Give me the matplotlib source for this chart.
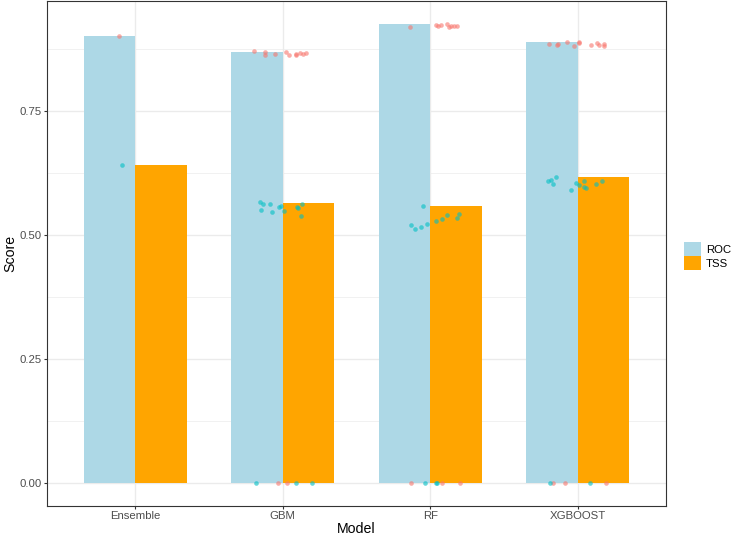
import matplotlib
matplotlib.use("Agg")
import matplotlib.pyplot as plt
from matplotlib.patches import Patch
from matplotlib.ticker import FixedLocator
import numpy as np

plt.rcParams['font.family'] = ['Liberation Sans', 'DejaVu Sans']

# ---- data ----
models = ["Ensemble", "GBM", "RF", "XGBOOST"]
metrics = ["ROC", "TSS"]
roc_bar = [0.900, 0.869, 0.925, 0.889]
tss_bar = [0.640, 0.565, 0.558, 0.616]

# individual run scores and their horizontal jitter (category units)
ens_roc = [0.900]
ens_roc_jit = [-0.11]
ens_tss = [0.640]
ens_tss_jit = [-0.09]

gbm_roc = [0.870, 0.868, 0.862, 0.864, 0.869, 0.862, 0.862, 0.864, 0.867, 0.864, 0.866, 0.0, 0.0]
gbm_roc_jit = [-0.196, -0.12, -0.12, -0.054, 0.02, 0.043, 0.088, 0.09, 0.115, 0.138, 0.158, -0.03, 0.03]
gbm_tss = [0.566, 0.562, 0.562, 0.550, 0.546, 0.557, 0.558, 0.548, 0.556, 0.555, 0.562, 0.538, 0.0, 0.0, 0.0]
gbm_tss_jit = [-0.154, -0.133, -0.088, -0.147, -0.072, -0.027, -0.014, 0.009, 0.097, 0.106, 0.133, 0.126, -0.18, 0.088, 0.196]

rf_roc = [0.919, 0.922, 0.920, 0.923, 0.924, 0.919, 0.921, 0.921, 0.920, 0.0, 0.0, 0.0]
rf_roc_jit = [-0.135, 0.038, 0.056, 0.074, 0.113, 0.126, 0.14, 0.162, 0.18, -0.129, 0.081, 0.203]
rf_tss = [0.558, 0.520, 0.512, 0.515, 0.522, 0.528, 0.532, 0.540, 0.542, 0.534, 0.0, 0.0, 0.0]
rf_tss_jit = [-0.05, -0.13, -0.10, -0.06, -0.02, 0.04, 0.08, 0.115, 0.196, 0.183, -0.034, 0.04, 0.045]

xgb_roc = [0.885, 0.883, 0.884, 0.888, 0.880, 0.8885, 0.887, 0.883, 0.887, 0.883, 0.884, 0.881, 0.0, 0.0, 0.0]
xgb_roc_jit = [-0.196, -0.138, -0.131, -0.07, -0.025, 0.009, 0.007, 0.088, 0.13, 0.144, 0.178, 0.176, -0.17, -0.088, 0.196]
xgb_tss = [0.608, 0.610, 0.603, 0.616, 0.605, 0.591, 0.600, 0.608, 0.597, 0.595, 0.603, 0.609, 0.0, 0.0]
xgb_tss_jit = [-0.203, -0.183, -0.167, -0.149, -0.009, -0.043, 0.009, 0.041, 0.047, 0.059, 0.122, 0.165, -0.19, 0.081]

runs = {
    "Ensemble": (ens_roc, ens_roc_jit, ens_tss, ens_tss_jit),
    "GBM": (gbm_roc, gbm_roc_jit, gbm_tss, gbm_tss_jit),
    "RF": (rf_roc, rf_roc_jit, rf_tss, rf_tss_jit),
    "XGBOOST": (xgb_roc, xgb_roc_jit, xgb_tss, xgb_tss_jit),
}

# ---- style ----
bar_colors = {"ROC": "#ADD8E6", "TSS": "#FFA500"}
pt_colors = {"ROC": "#F8766D", "TSS": "#00BFC4"}
grid_c = "#EBEBEB"

fig = plt.figure(figsize=(7.35, 5.39), dpi=100)
ax = fig.add_axes([47/735, 1 - 506/539, (666 - 47)/735, (506 - 1)/539])

x = np.arange(len(models))
w = 0.35
ax.bar(x - w/2, roc_bar, width=w, color=bar_colors["ROC"], zorder=2, linewidth=0)
ax.bar(x + w/2, tss_bar, width=w, color=bar_colors["TSS"], zorder=2, linewidth=0)

for i, m in enumerate(models):
    r, rj, t, tj = runs[m]
    ax.scatter(i + np.array(rj), r, s=11, color=pt_colors["ROC"], alpha=0.6,
               linewidths=0, zorder=3)
    ax.scatter(i + np.array(tj), t, s=11, color=pt_colors["TSS"], alpha=0.6,
               linewidths=0, zorder=3)

allvals = roc_bar + tss_bar + [v for m in models for v in runs[m][0] + runs[m][2]]
ymax = max(allvals)
pad = 0.05 * ymax
ax.set_ylim(-pad, ymax + pad)
ax.set_xlim(-0.6, len(models) - 0.4)

ax.yaxis.set_major_locator(FixedLocator([0, 0.25, 0.5, 0.75]))
ax.yaxis.set_minor_locator(FixedLocator([0.125, 0.375, 0.625, 0.875]))
ax.set_yticklabels(["0.00", "0.25", "0.50", "0.75"])
ax.set_xticks(x)
ax.set_xticklabels(models)

ax.grid(which="major", axis="both", color=grid_c, linewidth=1.0, zorder=0)
ax.grid(which="minor", axis="y", color=grid_c, linewidth=0.5, zorder=0)
ax.set_axisbelow(True)

for s in ax.spines.values():
    s.set_color("#333333")
    s.set_linewidth(0.8)

ax.tick_params(axis="both", which="major", length=2.0, width=0.8, color="#333333",
               labelcolor="#4D4D4D", labelsize=8.2, pad=1.6)
ax.tick_params(axis="both", which="minor", length=0)

ax.set_xlabel("Model", fontsize=10.2, color="black", labelpad=1)
ax.set_ylabel("Score", fontsize=10.2, color="black", labelpad=2)

handles = [Patch(facecolor=bar_colors[m], edgecolor="none", label=m) for m in metrics]
fig.legend(handles=handles, loc="center left", bbox_to_anchor=(682/735, 1 - 256/539),
           frameon=False, fontsize=8.2, handlelength=1.45, handleheight=1.5,
           labelspacing=0.0, handletextpad=0.45, borderpad=0.2, borderaxespad=0.0)

fig.savefig("out.png", dpi=100)
